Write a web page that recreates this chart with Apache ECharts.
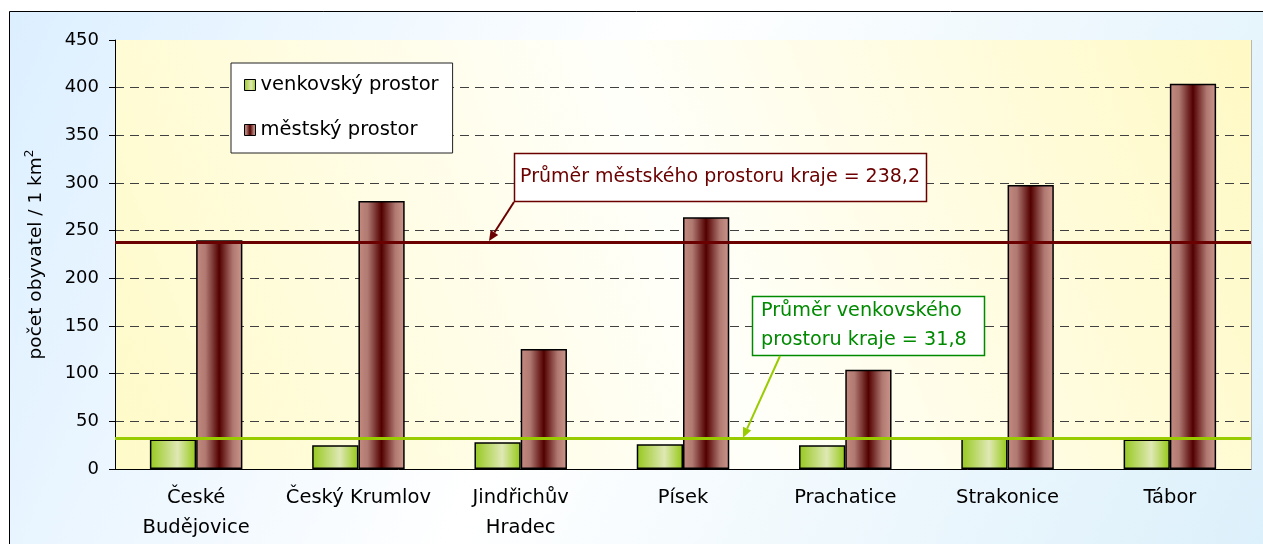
<!DOCTYPE html>
<html><head><meta charset="utf-8">
<script src="https://cdn.jsdelivr.net/npm/echarts@6/dist/echarts.min.js"></script>
<style>html,body{margin:0;padding:0;background:#fff}#c{width:1263px;height:544px}</style>
</head><body><div id="c"></div>
<script>
const categories = ['České\nBudějovice', 'Český Krumlov', 'Jindřichův\nHradec', 'Písek', 'Prachatice', 'Strakonice', 'Tábor'];
const ruralName = 'venkovský prostor';
const urbanName = 'městský prostor';
const ruralValues = [31, 25, 28, 26, 25, 33, 31];
const urbanValues = [240, 281, 126, 264, 104, 298, 404];
const ruralAverage = 31.8;
const urbanAverage = 238.2;
const urbanNote = 'Průměr městského prostoru kraje = 238,2';
const ruralNote = ['Průměr venkovského', 'prostoru kraje = 31,8'];
const yMin = 0, yMax = 450, yStep = 50;
const yName = 'počet obyvatel / 1 km';

const FONT = 'DejaVu Sans';
const chart = echarts.init(document.getElementById('c'));

const ruralColor = {type:'linear', x:0, y:0, x2:1, y2:0, colorStops:[
  {offset:0, color:'#96c81e'}, {offset:0.6, color:'#dfe8b4'}, {offset:1, color:'#94c814'}]};
const urbanColor = {type:'linear', x:0, y:0, x2:1, y2:0, colorStops:[
  {offset:0, color:'#c48a80'}, {offset:0.2, color:'#b07a72'}, {offset:0.5, color:'#520000'}, {offset:0.8, color:'#b07a72'}, {offset:1, color:'#cc968c'}]};

const splitColors = [];
for (let v = yMin; v <= yMax; v += yStep) splitColors.push(v === yMax ? 'rgba(0,0,0,0)' : '#404040');

chart.setOption({
  animation: false,
  textStyle: {fontFamily: FONT},
  graphic: [{
    type: 'rect', z: -10, silent: true,
    shape: {x: 9.5, y: 11.5, width: 1256, height: 536},
    style: {stroke: '#000', lineWidth: 1, fill: {type:'linear', x:0, y:0, x2:1, y2:1, colorStops:[
      {offset:0, color:'#dcefff'}, {offset:0.45, color:'#ffffff'}, {offset:1, color:'#dcf0fb'}]}}
  }, {
    type: 'line', z: -5, silent: true, shape: {x1: 1251.5, y1: 40, x2: 1251.5, y2: 469},
    style: {stroke: '#b8b8b8', lineWidth: 1}
  }],
  grid: {left: 115, right: 12, top: 40, bottom: 75, show: true, borderWidth: 0,
    backgroundColor: {type:'linear', x:0, y:1, x2:1, y2:0, colorStops:[
      {offset:0, color:'#fffac8'}, {offset:0.5, color:'#fffffa'}, {offset:1, color:'#fff9c4'}]}},
  legend: {
    orient: 'vertical', left: 231, top: 63, itemWidth: 11, itemHeight: 11, itemGap: 25,
    padding: [12, 14, 13, 13], backgroundColor: '#fff', borderColor: '#222', borderWidth: 1,
    textStyle: {fontSize: 19.5, color: '#000', fontFamily: FONT},
    data: [{name: ruralName, icon: 'rect', itemStyle:{borderColor:'#000', borderWidth:1}},
           {name: urbanName, icon: 'rect', itemStyle:{borderColor:'#000', borderWidth:1}}]
  },
  xAxis: {
    type: 'category', data: categories,
    axisLine: {lineStyle: {color: '#000', width: 1}},
    axisTick: {length: 6, lineStyle: {color: '#000'}},
    axisLabel: {fontSize: 19.5, color: '#000', lineHeight: 30, margin: 14, interval: 0}
  },
  yAxis: {
    type: 'value', min: yMin, max: yMax, interval: yStep,
    name: '{a|' + yName + '}{s|2}', nameLocation: 'middle', nameGap: 67,
    nameTextStyle: {rich: {
      a: {fontSize: 18.5, color: '#000', fontFamily: FONT},
      s: {fontSize: 12, color: '#000', fontFamily: FONT, verticalAlign: 'top', padding: [0, 0, 12, 0]}}},
    axisLine: {show: true, lineStyle: {color: '#000', width: 1}},
    axisTick: {show: true, length: 6, lineStyle: {color: '#000'}},
    axisLabel: {fontSize: 18, color: '#000', margin: 16},
    splitLine: {lineStyle: {color: splitColors, type: [9, 6], width: 1}}
  },
  series: [{
    name: ruralName, type: 'bar', data: ruralValues, barGap: '0%', barCategoryGap: '43%',
    itemStyle: {color: ruralColor, borderColor: '#000', borderWidth: 1.5},
    markLine: {silent: true, symbol: 'none', label: {show: false}, z: 5,
      lineStyle: {color: '#99cc00', width: 3, type: 'solid'}, data: [{yAxis: ruralAverage}]}
  }, {
    name: urbanName, type: 'bar', data: urbanValues,
    itemStyle: {color: urbanColor, borderColor: '#000', borderWidth: 1.5},
    markLine: {silent: true, symbol: 'none', label: {show: false}, z: 5,
      lineStyle: {color: '#6b0000', width: 3, type: 'solid'}, data: [{yAxis: urbanAverage}]}
  }]
});

function arrow(x1, y1, x2, y2, color) {
  const ang = Math.atan2(y2 - y1, x2 - x1), L = 10, W = 4.5;
  const bx = x2 - L * Math.cos(ang), by = y2 - L * Math.sin(ang);
  const px = -Math.sin(ang) * W, py = Math.cos(ang) * W;
  return [
    {type: 'line', z: 20, silent: true, shape: {x1, y1, x2: bx, y2: by}, style: {stroke: color, lineWidth: 2}},
    {type: 'polygon', z: 20, silent: true, shape: {points: [[x2, y2], [bx + px, by + py], [bx - px, by - py]]}, style: {fill: color}}
  ];
}

const yU = chart.convertToPixel({yAxisIndex: 0}, urbanAverage);
const yR = chart.convertToPixel({yAxisIndex: 0}, ruralAverage);
const g = chart.getOption().graphic[0].elements.slice();
g.push(
  {type: 'rect', z: 20, silent: true, shape: {x: 514.5, y: 153.5, width: 412, height: 48},
   style: {fill: '#fff', stroke: '#6b0000', lineWidth: 1.5}},
  {type: 'text', z: 21, silent: true, x: 720, y: 177,
   style: {text: urbanNote, fill: '#6b0000', font: '19px "' + FONT + '"', textAlign: 'center', textVerticalAlign: 'middle'}},
  ...arrow(514, 202, 489, yU - 1, '#6b0000'),
  {type: 'rect', z: 20, silent: true, shape: {x: 752.5, y: 296.5, width: 232, height: 59},
   style: {fill: '#fff', stroke: '#008a00', lineWidth: 1.5}},
  {type: 'text', z: 21, silent: true, x: 761, y: 326,
   style: {text: ruralNote.join('\n'), fill: '#008a00', font: '19.2px "' + FONT + '"', lineHeight: 29, textAlign: 'left', textVerticalAlign: 'middle'}},
  ...arrow(780, 356, 743, yR - 1, '#99cc00')
);
chart.setOption({graphic: g});
</script></body></html>
